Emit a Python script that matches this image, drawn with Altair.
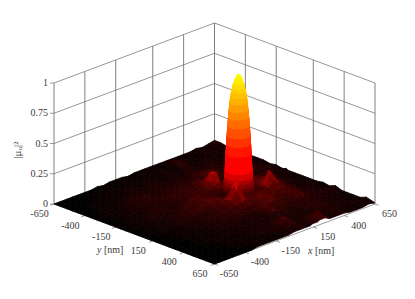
import math
import altair as alt

XS = [-650,-600,-550,-500,-450,-400,-350,-300,-250,-200,-150,-100,-50,0,50,
      65,85,105,125,145,165,185,205,225,245,265,285,305,
      350,400,450,500,550,600,650]
YS = [-650,-600,-550,-500,-450,-400,-350,-300,-250,-200,-150,
      -110,-90,-70,-50,-30,-10,10,30,50,70,90,110,130,
      180,230,280,330,380,430,480,530,580,650]
# |field|^2 in percent, one row per y, one column per x
Z = [
 [0,0,0,0,0,0,0,1,0,1,1,1,0,1,1, 1,1,1,1,1,1,1,1,1,1,1,1,1, 1,1,1,2,1,2,3],
 [0,0,0,0,0,1,0,1,1,0,1,1,1,1,1, 1,1,1,1,1,1,1,1,1,2,3,2,1, 1,1,2,1,2,2,3],
 [0,0,0,0,1,0,1,1,1,1,1,1,1,1,1, 1,1,2,2,1,1,1,1,2,4,5,4,2, 2,1,1,2,2,1,2],
 [0,0,1,0,1,1,1,1,1,2,1,1,2,2,1, 1,1,2,2,2,2,1,1,2,3,3,2,1, 1,2,2,2,1,2,1],
 [0,0,0,1,1,1,1,1,2,2,2,2,2,1,2, 2,2,2,2,2,1,2,2,3,3,2,2,2, 2,3,2,1,2,1,1],
 [0,0,1,1,1,1,2,2,2,2,2,2,3,2,2, 2,2,2,2,2,2,3,3,3,3,2,2,2, 3,2,2,2,3,2,1],
 [0,0,1,1,1,2,2,3,3,2,3,3,2,2,3, 3,3,2,2,3,3,4,4,4,4,3,3,3, 3,3,2,2,2,2,2],
 [0,1,1,1,2,2,3,3,4,3,2,3,3,3,3, 3,3,3,3,4,4,4,5,6,7,7,6,5, 3,2,3,3,2,1,2],
 [0,1,1,1,2,2,2,3,3,3,3,3,4,4,4, 4,5,5,5,5,4,4,5,5,6,5,4,4, 3,3,3,3,2,2,2],
 [0,0,1,1,2,2,2,3,3,3,4,4,4,4,4, 5,6,7,7,6,4,4,4,4,4,4,3,3, 3,3,2,3,3,2,1],
 [0,1,1,2,1,2,3,3,2,3,4,4,4,5,5, 6,10,15,16,10,6,4,3,3,3,3,3,3, 4,3,3,2,3,2,2],
 [0,1,1,1,2,2,3,3,2,2,3,4,4,5,5, 6,10,16,17,10,6,4,3,3,3,3,3,4, 4,4,3,3,2,2,1],
 [0,1,1,2,2,2,2,3,3,2,3,4,5,5,5, 5,7,9,9,7,4,4,3,3,3,3,3,3, 5,5,4,2,3,2,1],
 [0,0,1,2,2,2,3,3,3,3,6,7,5,4,5, 5,5,6,5,5,4,3,3,3,3,3,3,3, 5,5,3,3,2,2,2],
 [0,1,1,1,2,3,2,2,3,4,6,6,5,4,4, 3,3,3,3,3,3,3,3,3,3,3,3,4, 5,6,4,2,2,1,1],
 [0,1,1,1,2,2,2,2,3,4,4,5,6,5,4, 3,3,3,3,3,3,3,3,3,3,3,3,4, 6,6,4,3,2,2,1],
 [0,0,1,1,1,2,2,3,4,4,4,5,6,5,4, 3,3,3,3,3,3,3,3,3,3,3,4,5, 7,7,4,3,2,1,1],
 [0,0,1,1,1,2,3,3,4,4,4,6,7,6,4, 3,3,3,3,3,3,3,3,3,3,3,4,5, 8,7,4,2,2,2,1],
 [0,0,1,1,2,2,3,3,3,4,5,6,7,6,5, 4,3,3,3,3,3,3,3,3,3,3,4,5, 9,7,5,2,2,1,1],
 [0,0,1,1,2,2,2,3,4,5,5,6,7,6,7, 6,4,3,3,3,3,3,3,3,3,3,5,6, 10,8,5,3,2,1,1],
 [0,1,1,1,1,2,2,3,4,5,4,5,7,6,8, 10,6,4,3,3,3,3,3,3,3,4,5,6, 13,8,5,3,2,2,1],
 [0,0,1,1,1,2,3,3,3,4,4,4,6,6,14, 18,11,6,4,4,4,4,4,4,4,4,6,7, 18,9,5,3,2,1,1],
 [0,0,1,1,2,2,2,2,3,3,3,4,6,7,17, 22,13,8,6,6,6,6,6,6,6,6,6,7, 17,8,4,2,2,1,1],
 [0,0,1,1,1,2,2,2,2,3,3,4,6,7,13, 18,10,8,6,6,6,6,6,6,6,6,6,6, 11,6,4,2,1,1,1],
 [0,0,0,1,1,1,2,2,3,3,4,4,5,6,6, 8,6,6,7,7,7,7,7,7,7,7,6,6, 6,5,4,2,2,2,1],
 [0,0,1,1,1,1,2,2,3,3,3,4,4,4,5, 5,5,4,5,7,9,9,9,7,5,5,5,5, 5,5,3,2,2,1,2],
 [0,0,0,1,1,1,2,2,2,3,3,3,3,3,3, 3,5,6,5,4,5,5,5,5,5,4,4,4, 6,7,3,3,2,1,1],
 [0,0,0,0,1,1,1,2,2,2,2,2,2,2,2, 3,6,8,6,4,4,4,4,4,4,3,3,3, 4,4,3,2,3,2,3],
 [0,0,0,1,1,1,1,1,2,2,2,2,2,2,2, 2,3,4,3,3,3,3,3,3,3,3,3,3, 3,3,3,2,2,2,1],
 [0,0,0,0,1,1,1,2,2,1,2,2,2,2,2, 2,2,2,2,2,3,3,2,2,2,3,3,3, 3,3,2,2,2,1,1],
 [0,0,0,0,0,1,1,1,1,2,2,2,2,3,5, 6,4,2,2,2,2,2,2,2,2,2,3,3, 3,3,2,2,1,2,1],
 [0,0,0,0,0,1,1,1,1,2,2,2,3,3,5, 6,4,2,2,2,2,2,2,2,2,2,2,2, 3,2,2,2,2,1,1],
 [0,0,0,0,0,0,1,1,1,1,1,2,2,2,3, 3,3,2,2,3,3,4,5,6,7,6,3,2, 2,3,2,2,2,2,3],
 [0,0,0,0,0,0,0,1,1,1,1,1,1,2,2, 2,2,2,2,3,3,3,4,4,4,3,2,2, 2,2,1,1,1,2,1],
]
# central peak: height in percent against distance (nm) from its axis
PEAK_AT = (185, 10)
PEAK_R = [0, 5, 10, 15, 20, 25, 30, 35, 40, 45, 50, 54, 58, 62, 66, 69, 72, 75, 77, 80, 82, 86, 90, 95, 100]
PEAK_Z = [100, 100, 99, 98, 96, 94, 92, 89, 86, 82, 77, 71, 65, 58, 50, 43, 35, 27, 21, 16, 13, 10, 7, 5, 3]
PEAK_SECTORS = 36

H_TICKS = [-650, -400, -150, 150, 400, 650]
Z_TICKS = [0, 0.25, 0.5, 0.75, 1]
Z_LABELS = ["0", "0.25", "0.5", "0.75", "1"]

W, H = 399, 283

def proj(x, y, z=0.0):
    return (206.5 + (x + y) * 160.5 / 1300,
            196.0 + (y - x) * 60.0 / 1300 - z * 121.0)

cells = []
def add_cell(corners):
    ring = [list(proj(a, b, c / 100)) for a, b, c in corners]
    ring.append(ring[0])
    depth = sum(a - b for a, b, _ in corners) / len(corners)
    cells.append((depth, {"type": "Feature",
                          "geometry": {"type": "Polygon", "coordinates": [ring]},
                          "properties": {"z": sum(c[2] for c in corners) / (100 * len(corners))}}))

for j in range(len(YS) - 1):
    for i in range(len(XS) - 1):
        add_cell([(XS[i], YS[j], Z[j][i]), (XS[i + 1], YS[j], Z[j][i + 1]),
                  (XS[i + 1], YS[j + 1], Z[j + 1][i + 1]), (XS[i], YS[j + 1], Z[j + 1][i])])

for k in range(PEAK_SECTORS):
    a0 = 2 * math.pi * k / PEAK_SECTORS
    a1 = 2 * math.pi * (k + 1) / PEAK_SECTORS
    for n in range(len(PEAK_R) - 1):
        r0, r1 = PEAK_R[n], PEAK_R[n + 1]
        add_cell([(PEAK_AT[0] + r0 * math.cos(a0), PEAK_AT[1] + r0 * math.sin(a0), PEAK_Z[n]),
                  (PEAK_AT[0] + r1 * math.cos(a0), PEAK_AT[1] + r1 * math.sin(a0), PEAK_Z[n + 1]),
                  (PEAK_AT[0] + r1 * math.cos(a1), PEAK_AT[1] + r1 * math.sin(a1), PEAK_Z[n + 1]),
                  (PEAK_AT[0] + r0 * math.cos(a1), PEAK_AT[1] + r0 * math.sin(a1), PEAK_Z[n])])

# paint from the back corner (x=650, y=-650) to the front one
cells.sort(key=lambda c: -c[0])
features = [c[1] for c in cells]

lines = []
def seg(kind, a, b):
    (x1, y1), (x2, y2) = a, b
    lines.append({"kind": kind, "x1": x1, "y1": y1, "x2": x2, "y2": y2})

for t in H_TICKS:
    seg("v", proj(t, -650, 0), proj(t, -650, 1))   # left wall verticals
    seg("v", proj(650, t, 0), proj(650, t, 1))     # right wall verticals
    seg("e", proj(-650, t), proj(-680, t))         # y ticks
    seg("e", proj(t, 650), proj(t, 680))           # x ticks
for z in Z_TICKS:
    seg("h", proj(-650, -650, z), proj(650, -650, z))
    seg("h", proj(650, -650, z), proj(650, 650, z))
    px, py = proj(-650, -650, z)
    seg("e", (px - 4, py), (px, py))
seg("e", proj(-650, -650), proj(-650, 650))
seg("e", proj(-650, 650), proj(650, 650))

labels = []
def lab(text, at, dx, dy, align="center"):
    labels.append({"t": text, "x": at[0] + dx, "y": at[1] + dy, "a": align})

for t in H_TICKS:
    lab(str(t), proj(-650, t), -14.5, 10)
    lab(str(t), proj(t, 650), 14.5, 10)
for z, s in zip(Z_TICKS, Z_LABELS):
    lab(s, proj(-650, -650, z), -6, 0, "right")

x_scale = alt.Scale(domain=[0, W], nice=False, zero=False)
y_scale = alt.Scale(domain=[H, 0], nice=False, zero=False)

rule_base = alt.Chart(alt.Data(values=lines)).encode(
    x=alt.X("x1:Q", scale=x_scale, axis=None), y=alt.Y("y1:Q", scale=y_scale, axis=None),
    x2="x2:Q", y2="y2:Q")
verticals = rule_base.transform_filter("datum.kind == 'v'").mark_rule(color="#808080", strokeWidth=1)
slopes = rule_base.transform_filter("datum.kind == 'h'").mark_rule(color="#6a6a6a", strokeWidth=0.7)
edges = rule_base.transform_filter("datum.kind == 'e'").mark_rule(color="#808080", strokeWidth=0.8)

hot = alt.Scale(domain=[0, 0.22, 0.33, 1], range=["#000000", "#ff0000", "#ff0000", "#ffff00"], interpolate="rgb")
surface = alt.Chart(alt.Data(values=features)).mark_geoshape(strokeWidth=0.8).encode(
    color=alt.Color("properties.z:Q", legend=None, scale=hot),
    stroke=alt.Stroke("properties.z:Q", legend=None, scale=hot),
).project(type="identity", scale=1, translate=[0, 0])

def text_layer(rows, **kw):
    return alt.Chart(alt.Data(values=rows)).mark_text(
        font="Liberation Serif", color="#3a3a3a", baseline="middle", **kw
    ).encode(x=alt.X("x:Q", scale=x_scale, axis=None), y=alt.Y("y:Q", scale=y_scale, axis=None), text="t:N")

ticks_c = text_layer([r for r in labels if r["a"] == "center"], fontSize=10, align="center")
ticks_r = text_layer([r for r in labels if r["a"] == "right"], fontSize=10, align="right")
ax_it = text_layer([{"t": "y", "x": 89, "y": 242}, {"t": "x", "x": 300, "y": 243}],
                   fontSize=10, align="left", fontStyle="italic")
ax_rm = text_layer([{"t": "[nm]", "x": 96, "y": 242}, {"t": "[nm]", "x": 307, "y": 243}],
                   fontSize=10, align="left")
z_title = text_layer([{"t": "|μᵤ|²", "x": 10, "y": 142}], fontSize=11, align="center", angle=270)

chart = alt.layer(verticals, slopes, edges, surface, ticks_c, ticks_r, ax_it, ax_rm, z_title).properties(
    width=W, height=H, padding=0, autosize=alt.AutoSizeParams(type="none"),
    background="#ffffff"
).configure_view(stroke=None)

chart.save("out.html", embed_options={"renderer": "svg", "actions": False})
